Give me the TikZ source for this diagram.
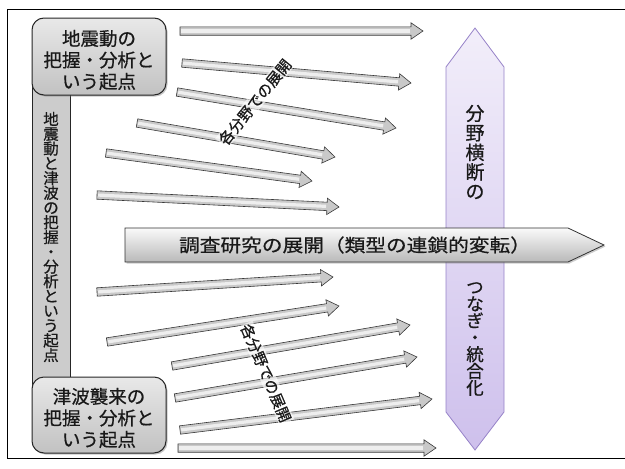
\documentclass[tikz,border=0pt]{standalone}
\usepackage{fontspec}
\setmainfont{Noto Sans CJK JP}[FakeBold=0.6]
\usetikzlibrary{calc,shadows}
\definecolor{purpbd}{RGB}{150,130,200}
\definecolor{purptop}{RGB}{242,238,250}
\definecolor{purpbot}{RGB}{206,192,236}
\definecolor{txt}{RGB}{25,25,25}
\newcommand\thinarrow[2]{%
  \coordinate (#1b) at ($(#2)!12pt!(#1)$);
  \draw[arrowbody] ($(#1)!4.2pt!90:(#2)$) -- ($(#1b)!4.2pt!90:(#2)$) -- ($(#1b)!8.2pt!90:(#2)$) -- (#2)
     -- ($(#1b)!8.2pt!-90:(#2)$) -- ($(#1b)!4.2pt!-90:(#2)$) -- ($(#1)!4.2pt!-90:(#2)$) -- cycle;
  \draw[arrowhl] ($(#1)!1.2pt!(#2)$) -- ($(#1b)!1pt!(#1)$);
}
\begin{document}
\begin{tikzpicture}[x=1pt,y=-1pt,
  frame/.style={draw=black, line width=0.8pt},
  startbox/.style={draw=black!85, line width=1pt, rounded corners=12pt, top color=gray!18, bottom color=gray!48,
     drop shadow={shadow xshift=1.5pt, shadow yshift=-1.5pt, opacity=0.45}},
  barbox/.style={draw=black!85, line width=1pt, fill=gray!40,
     drop shadow={shadow xshift=1.2pt, shadow yshift=-1.2pt, opacity=0.4}},
  mainarrow/.style={draw=black!80, line width=0.8pt, top color=gray!4, bottom color=gray!55,
     drop shadow={shadow xshift=1.5pt, shadow yshift=-1.5pt, opacity=0.4}},
  purparrow/.style={draw=purpbd, line width=0.8pt, top color=purptop, bottom color=purpbot},
  arrowbody/.style={draw=black!78, line width=0.6pt, fill=gray!42, line join=miter},
  arrowhl/.style={draw=white, line width=3.2pt, opacity=0.7},
  boxtext/.style={text=txt, font=\fontsize{18.5}{21.5}\selectfont, align=center, inner sep=0pt},
  vtext/.style={text=txt, align=center, inner sep=0pt},
  sublabel/.style={text=txt, font=\fontsize{15}{15}\selectfont, fill=white, fill opacity=0.6, text opacity=1, inner sep=1pt}
]
\useasboundingbox (0,0) rectangle (625,469);
\draw[frame] (7,9) rectangle (628,458);

% left vertical bar and start boxes
\draw[barbox] (32,85) rectangle (70,387);
\node[vtext, font=\fontsize{15.5}{14.75}\selectfont] (bartxt) at (51,237)
  {地\\震\\動\\と\\津\\波\\の\\把\\握\\・\\分\\析\\と\\い\\う\\起\\点};
\node[startbox, minimum width=134pt, minimum height=77pt] (eq) at (99,56.5) {};
\node[boxtext] (eqtxt) at (99,60) {地震動の\\把握・分析と\\いう起点};
\node[startbox, minimum width=134pt, minimum height=76pt] (ts) at (99,415) {};
\node[boxtext] (tstxt) at (99,418) {津波襲来の\\把握・分析と\\いう起点};

% purple cross-field double arrow
\coordinate (pt) at (475,28);
\coordinate (pb) at (475,450);
\draw[purparrow] (446,67) -- (pt) -- (504,67) -- (504,412) -- (pb) -- (446,412) -- cycle;
\node[vtext, font=\fontsize{19}{19.5}\selectfont] (purp1) at (475,152) {分\\野\\横\\断\\の};
\node[vtext, font=\fontsize{17.5}{16.8}\selectfont] (purp2) at (475,339) {つ\\な\\ぎ\\・\\統\\合\\化};

% main arrow
\coordinate (mtip) at (604,245);
\draw[mainarrow] (125,228) -- (568,228) -- (mtip) -- (568,262) -- (125,262) -- cycle;
\node[text=txt, font=\fontsize{18}{18}\selectfont, xscale=1.15, inner sep=0pt] (maintxt) at (355,245)
  {調査研究の展開（類型の連鎖的変転）};

% upper thin arrows
\coordinate (a1) at (180,31);  \coordinate (a1h) at (423,31);
\coordinate (a2) at (182,63);  \coordinate (a2h) at (411,83);
\coordinate (a3) at (177,92);  \coordinate (a3h) at (396,128);
\coordinate (a4) at (137,123); \coordinate (a4h) at (335,157);
\coordinate (a5) at (106,153); \coordinate (a5h) at (312,181);
\coordinate (a6) at (97,195);  \coordinate (a6h) at (339,207);
\thinarrow{a1}{a1h}
\thinarrow{a2}{a2h}
\thinarrow{a3}{a3h}
\thinarrow{a4}{a4h}
\thinarrow{a5}{a5h}
\thinarrow{a6}{a6h}

% lower thin arrows
\coordinate (b1) at (97,292);  \coordinate (b1h) at (333,277);
\coordinate (b2) at (107,342); \coordinate (b2h) at (339,306);
\coordinate (b3) at (172,366); \coordinate (b3h) at (410,325);
\coordinate (b4) at (175,398); \coordinate (b4h) at (417,357);
\coordinate (b5) at (180,430); \coordinate (b5h) at (432,399);
\coordinate (b6) at (178,448); \coordinate (b6h) at (436,448);
\thinarrow{b1}{b1h}
\thinarrow{b2}{b2h}
\thinarrow{b3}{b3h}
\thinarrow{b4}{b4h}
\thinarrow{b5}{b5h}
\thinarrow{b6}{b6h}

% rotated labels
\node[sublabel, rotate=51] (lab1) at (255,102) {各分野での展開};
\node[sublabel, rotate=-67] (lab2) at (266,373) {各分野での展開};
\end{tikzpicture}
\end{document}
